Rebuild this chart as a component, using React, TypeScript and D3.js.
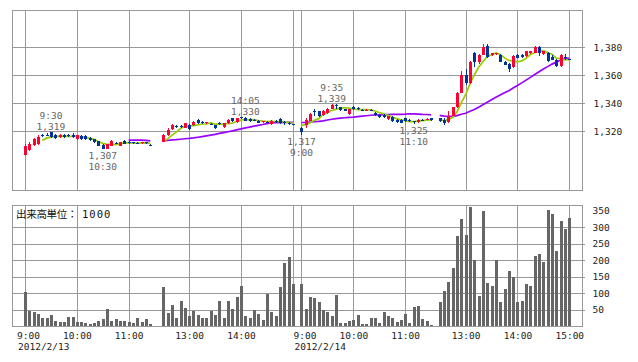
import * as d3 from "d3";
import { useEffect, useRef } from "react";

// 5-minute bars, [open, high, low, close]
const day1Morning: number[][] = [
  [1303, 1311, 1302, 1309], [1306.5, 1312.5, 1305.5, 1311], [1310, 1315, 1309, 1314], [1311, 1317, 1310, 1316],
  [1317, 1318, 1316, 1316.5], [1317.5, 1318.5, 1316.5, 1317], [1319, 1319.3, 1315, 1315.5], [1317.5, 1318, 1314.5, 1315],
  [1315.5, 1318, 1315, 1317.5], [1317.5, 1318, 1315, 1315.5], [1317.3, 1318, 1316, 1317], [1317.5, 1318.5, 1315, 1315.5],
  [1314, 1317.5, 1313.5, 1317], [1316.5, 1317, 1313.8, 1314], [1316.5, 1317, 1313.8, 1314], [1315.2, 1315.5, 1313, 1313.3],
  [1314.3, 1314.5, 1311.5, 1312], [1312.6, 1313, 1309, 1309.3], [1310, 1310.5, 1307, 1307.3], [1307.5, 1311, 1307, 1310.5],
  [1309.5, 1313.5, 1309, 1313], [1311.3, 1312, 1310.5, 1311], [1309.5, 1312.5, 1309, 1312], [1313, 1313.5, 1310.5, 1311],
  [1312.5, 1313, 1311, 1311.5], [1311.8, 1312.5, 1311, 1311.5], [1311.3, 1312, 1310.5, 1311], [1311.5, 1312, 1311, 1311.8],
  [1311.8, 1312, 1311, 1311.5], [1310.2, 1310.5, 1309.8, 1310],
];
const day1Afternoon: number[][] = [
  [1312.5, 1318, 1312, 1317.5], [1317, 1322, 1316.5, 1321], [1321.5, 1325, 1321, 1324.3], [1323.5, 1324.5, 1322, 1323],
  [1323.5, 1324.5, 1322, 1323], [1322.5, 1326, 1322, 1325.5], [1324, 1325, 1321, 1321.5], [1324, 1327, 1323.5, 1326.5],
  [1328, 1328.5, 1325, 1325.5], [1326.2, 1327, 1325, 1326], [1325.8, 1326.5, 1325, 1326.2], [1325.2, 1326, 1324.5, 1325],
  [1324, 1324.5, 1321.5, 1322], [1325.7, 1326.5, 1324.5, 1325.5], [1323, 1326, 1322.5, 1325.5], [1325.5, 1328.5, 1325, 1328],
  [1329, 1329.5, 1326.5, 1327], [1326.5, 1329.5, 1326, 1329], [1329.7, 1330, 1328.5, 1329.5], [1329.5, 1330, 1327, 1327.5],
  [1328.5, 1329, 1326.5, 1327], [1327.7, 1328.5, 1327, 1327.5], [1327.5, 1328, 1325.5, 1326], [1326.8, 1327.5, 1326, 1327],
  [1326.7, 1327.5, 1325.5, 1326.5], [1325, 1328, 1324.5, 1327.5], [1327.2, 1328, 1326, 1327], [1328.5, 1329, 1325, 1325.5],
  [1326.2, 1327, 1324.5, 1326], [1326, 1326.5, 1324, 1324.8], [1324.7, 1325, 1324.3, 1324.5],
];
const day2Morning: number[][] = [
  [1322.5, 1323, 1317, 1319.5], [1324.5, 1329, 1322, 1328], [1327.5, 1333, 1327, 1332.5], [1334, 1335.5, 1331, 1333.6],
  [1334, 1334.5, 1330, 1330.5], [1331.5, 1335, 1331, 1334.5], [1333, 1336.5, 1332.5, 1336], [1336, 1339, 1335.5, 1338.8],
  [1338.5, 1339, 1336, 1338.2], [1337, 1337.5, 1334.5, 1335], [1335.5, 1336, 1334, 1334.5], [1332.5, 1336, 1331.5, 1335.5],
  [1337, 1338, 1335, 1335.5], [1336.5, 1337.5, 1335, 1335.5], [1335.2, 1336, 1334.5, 1335], [1334.8, 1335.5, 1334.5, 1335],
  [1334.7, 1335.5, 1334, 1334.5], [1333, 1333.5, 1331, 1331.5], [1331.5, 1332, 1329.5, 1330], [1331.5, 1332, 1329.5, 1330],
  [1328.5, 1331, 1328, 1330.5], [1330, 1330.5, 1326.5, 1327], [1328, 1328.5, 1326, 1326.5], [1328, 1328.5, 1325.5, 1326],
  [1329, 1329.5, 1326.5, 1327], [1328, 1328.5, 1326.5, 1327], [1327.2, 1327.5, 1325, 1327], [1326.5, 1328.5, 1326, 1328],
  [1328.2, 1328.5, 1327.5, 1328], [1328.3, 1329, 1328, 1328.5], [1329, 1329.5, 1327.5, 1328],
];
const day2Afternoon: number[][] = [
  [1329, 1329.5, 1326.5, 1327], [1328, 1329, 1324, 1326], [1326.5, 1334, 1325.5, 1331], [1331, 1337.5, 1330.5, 1337],
  [1337, 1348, 1336.5, 1347], [1347.5, 1363, 1347, 1360], [1360, 1364, 1353, 1354.5], [1354, 1370, 1353.5, 1369.5],
  [1376, 1376.5, 1366, 1369], [1369, 1375, 1368, 1374.5], [1374.5, 1382, 1374, 1380], [1381, 1382, 1372, 1373],
  [1374, 1376, 1373.5, 1375.5], [1375, 1376, 1374, 1375.5], [1374.5, 1375, 1369, 1369.5], [1369.5, 1370, 1367, 1367.5],
  [1368, 1368.5, 1362, 1364], [1365.5, 1374, 1365, 1373.5], [1374.5, 1375, 1372, 1372.5], [1374, 1375, 1372.5, 1373],
  [1373.5, 1377.5, 1373, 1377], [1375.5, 1377.5, 1375, 1377], [1376, 1380.5, 1375.5, 1380], [1380, 1381, 1373.5, 1376],
  [1375, 1377.5, 1374.5, 1377], [1376, 1376.5, 1369, 1370], [1373, 1374, 1370.5, 1371], [1371, 1371.5, 1366, 1366.5],
  [1366.5, 1375, 1366, 1374.5], [1373, 1375, 1371, 1372], [1371.2, 1371.5, 1370.5, 1371],
];

// volume, unit 1000
const day1MorningVol = [104, 46, 42, 37, 25, 25, 33, 15, 13, 13, 27, 27, 13, 13, 9, 6, 10, 15, 21, 52, 15, 21, 15, 15, 12, 9, 24, 13, 22, 7];
const day1AfternoonVol = [118, 40, 64, 24, 76, 54, 30, 46, 33, 24, 24, 46, 33, 76, 24, 76, 52, 88, 122, 30, 24, 49, 37, 18, 97, 43, 30, 118, 191, 210, 128];
const day2MorningVol = [128, 52, 88, 85, 74, 49, 43, 30, 94, 9, 9, 15, 18, 33, 6, 6, 24, 24, 9, 43, 30, 24, 12, 18, 37, 9, 58, 61, 21, 15, 3];
const day2AfternoonVol = [74, 106, 134, 176, 274, 325, 277, 362, 200, 91, 349, 131, 122, 200, 73, 112, 167, 149, 73, 76, 128, 122, 213, 219, 195, 352, 340, 228, 319, 295, 328];

// first slot of each session on the shared time axis
const sessionStarts = [0, 32, 64, 96];

const timeTicks = [0, 12, 24, 38, 50, 62, 64, 76, 88, 102, 114, 126];
const timeLabels = ["9:00", "10:00", "11:00", "13:00", "14:00", "", "9:00", "10:00", "11:00", "13:00", "14:00", "15:00"];
const dateLabels = [{ slot: 0, text: "2012/2/13" }, { slot: 64, text: "2012/2/14" }];

const priceTicks = [1320, 1340, 1360, 1380];
const volumeTicks = [50, 100, 150, 200, 250, 300, 350];
const volumeGrid = [50, 100, 150, 200, 250, 300];

// session high / low markers
const marks = [
  { slot: 6, price: 1319, time: "9:30", kind: "high" },
  { slot: 18, price: 1307, time: "10:30", kind: "low" },
  { slot: 51, price: 1330, time: "14:05", kind: "high" },
  { slot: 64, price: 1317, time: "9:00", kind: "low" },
  { slot: 71, price: 1339, time: "9:35", kind: "high" },
  { slot: 90, price: 1325, time: "11:10", kind: "low" },
];

interface Bar { slot: number; session: number; o: number; h: number; l: number; c: number; v: number; }

const UP = "#ff0033";
const DOWN = "#003399";
const GRID = "#999999";
const FONT = "'DejaVu Sans Mono', monospace";

function App() {
  const ref = useRef<SVGSVGElement>(null);

  useEffect(() => {
    const width = 638, height = 362;
    const left = 12, right = 582;
    const pTop = 10, pBottom = 190;
    const vTop = 205, vBottom = 326;

    const svg = d3.select(ref.current);
    svg.selectAll("*").remove();

    const ohlc = [day1Morning, day1Afternoon, day2Morning, day2Afternoon];
    const vols = [day1MorningVol, day1AfternoonVol, day2MorningVol, day2AfternoonVol];
    const bars: Bar[] = [];
    ohlc.forEach((rows, s) => rows.forEach((r, k) => bars.push({
      slot: sessionStarts[s] + k, session: s, o: r[0], h: r[1], l: r[2], c: r[3], v: vols[s][k],
    })));

    const x = d3.scaleLinear().domain([0, 126]).range([25, 569.3]);
    const y = d3.scaleLinear().domain([1320, 1380]).range([131, 47]);
    const yv = d3.scaleLinear().domain([0, 300]).range([vBottom, 227]);
    const px = (i: number) => Math.round(x(i));

    svg.append("rect").attr("width", width).attr("height", height).attr("fill", "#fff");

    // grids
    const grid = svg.append("g").attr("stroke", GRID).attr("stroke-width", 1).attr("shape-rendering", "crispEdges");
    [[pTop, pBottom], [vTop, vBottom]].forEach(([t, b]) => {
      grid.selectAll(null).data(timeTicks).join("line")
        .attr("x1", d => px(d) + 0.5).attr("x2", d => px(d) + 0.5)
        .attr("y1", t).attr("y2", b);
      grid.append("rect").attr("x", left + 0.5).attr("y", t + 0.5)
        .attr("width", right - left).attr("height", b - t).attr("fill", "none");
    });
    grid.selectAll(null).data(priceTicks).join("line")
      .attr("x1", left).attr("x2", right + 3)
      .attr("y1", d => Math.round(y(d)) + 0.5).attr("y2", d => Math.round(y(d)) + 0.5);
    grid.selectAll(null).data(volumeGrid).join("line")
      .attr("x1", left).attr("x2", right + 3)
      .attr("y1", d => Math.round(yv(d)) + 0.5).attr("y2", d => Math.round(yv(d)) + 0.5);

    // right axes
    const priceAxis = svg.append("g").attr("transform", `translate(${right + 0.5},0)`)
      .call(d3.axisRight(y).tickValues(priceTicks).tickSize(0).tickPadding(11).tickFormat(d3.format(",")));
    const volAxis = svg.append("g").attr("transform", `translate(${right + 0.5},0)`)
      .call(d3.axisRight(yv).tickValues(volumeTicks).tickSize(0).tickPadding(10).tickFormat(d3.format("d")));
    [priceAxis, volAxis].forEach(a => {
      a.select(".domain").remove();
      a.selectAll("text").attr("font-family", FONT).attr("font-size", 9.5).attr("fill", "#222");
    });

    // volume bars
    svg.append("g").attr("fill", "#666").attr("shape-rendering", "crispEdges")
      .selectAll("rect").data(bars).join("rect")
      .attr("x", d => px(d.slot) - 1).attr("width", 3)
      .attr("y", d => Math.round(yv(d.v))).attr("height", d => vBottom - Math.round(yv(d.v)));

    // moving averages (25 and 5 bars)
    const closes = bars.map(b => b.c);
    const ma = (n: number) => closes.map((_, i) => (i < n - 1 ? null : d3.mean(closes.slice(i - n + 1, i + 1))!));
    const lines = [{ n: 25, color: "#9900ff" }, { n: 5, color: "#99cc00" }];
    lines.forEach(({ n, color }) => {
      const vals = ma(n);
      const line = d3.line<Bar>()
        .defined(d => vals[bars.indexOf(d)] != null)
        .x(d => x(d.slot)).y(d => y(vals[bars.indexOf(d)]!));
      svg.append("g").selectAll("path")
        .data(d3.range(4).map(s => bars.filter(b => b.session === s)))
        .join("path")
        .attr("fill", "none").attr("stroke", color).attr("stroke-width", 1.7)
        .attr("d", d => line(d));
    });

    // candles
    const cg = svg.append("g").attr("shape-rendering", "crispEdges")
      .selectAll("g").data(bars).join("g")
      .attr("fill", d => (d.c > d.o ? UP : DOWN)).attr("stroke", d => (d.c > d.o ? UP : DOWN));
    cg.append("line")
      .attr("x1", d => px(d.slot) + 0.5).attr("x2", d => px(d.slot) + 0.5)
      .attr("y1", d => y(d.h)).attr("y2", d => y(d.l));
    cg.append("rect").attr("stroke", "none")
      .attr("x", d => px(d.slot) - 1).attr("width", 3)
      .attr("y", d => y(Math.max(d.o, d.c)))
      .attr("height", d => Math.max(1, y(Math.min(d.o, d.c)) - y(Math.max(d.o, d.c))));

    // high / low notes
    const notes = svg.append("g").attr("font-family", FONT).attr("font-size", 9.5)
      .attr("fill", "#666").attr("text-anchor", "middle");
    marks.forEach(m => {
      const cx = x(m.slot), cy = y(m.price);
      const priceText = d3.format(",")(m.price);
      if (m.kind === "high") {
        notes.append("text").attr("x", cx).attr("y", cy - 13.5).text(m.time);
        notes.append("text").attr("x", cx).attr("y", cy - 2.3).text(priceText);
      } else {
        notes.append("text").attr("x", cx).attr("y", cy + 10).text(priceText);
        notes.append("text").attr("x", cx).attr("y", cy + 20.5).text(m.time);
      }
    });

    // time labels
    const tl = svg.append("g").attr("font-family", FONT).attr("font-size", 9.5).attr("fill", "#222");
    tl.selectAll("text.t").data(timeTicks.map((s, i) => ({ s, t: timeLabels[i] })).filter(d => d.t))
      .join("text").attr("class", "t").attr("text-anchor", "middle")
      .attr("x", d => x(d.s) + (d.t.length === 4 ? 3.5 : 0.5)).attr("y", 339).text(d => d.t);
    tl.selectAll("text.d").data(dateLabels).join("text").attr("class", "d")
      .attr("x", d => x(d.slot) - 7).attr("y", 350).text(d => d.text);

    // volume unit caption
    const cap = svg.append("text").attr("y", 218).attr("fill", "#111");
    cap.append("tspan").attr("x", 16)
      .attr("font-family", "'Noto Sans CJK JP', sans-serif").attr("font-size", 10.5).attr("letter-spacing", -0.3)
      .text("出来高単位：");
    cap.append("tspan").attr("x", 82)
      .attr("font-family", FONT).attr("font-size", 10.5).attr("letter-spacing", 1)
      .text("1000");
  }, []);

  return <svg ref={ref} width={638} height={362} style={{ position: "absolute", left: 0, top: 0 }} />;
}

export default App;
